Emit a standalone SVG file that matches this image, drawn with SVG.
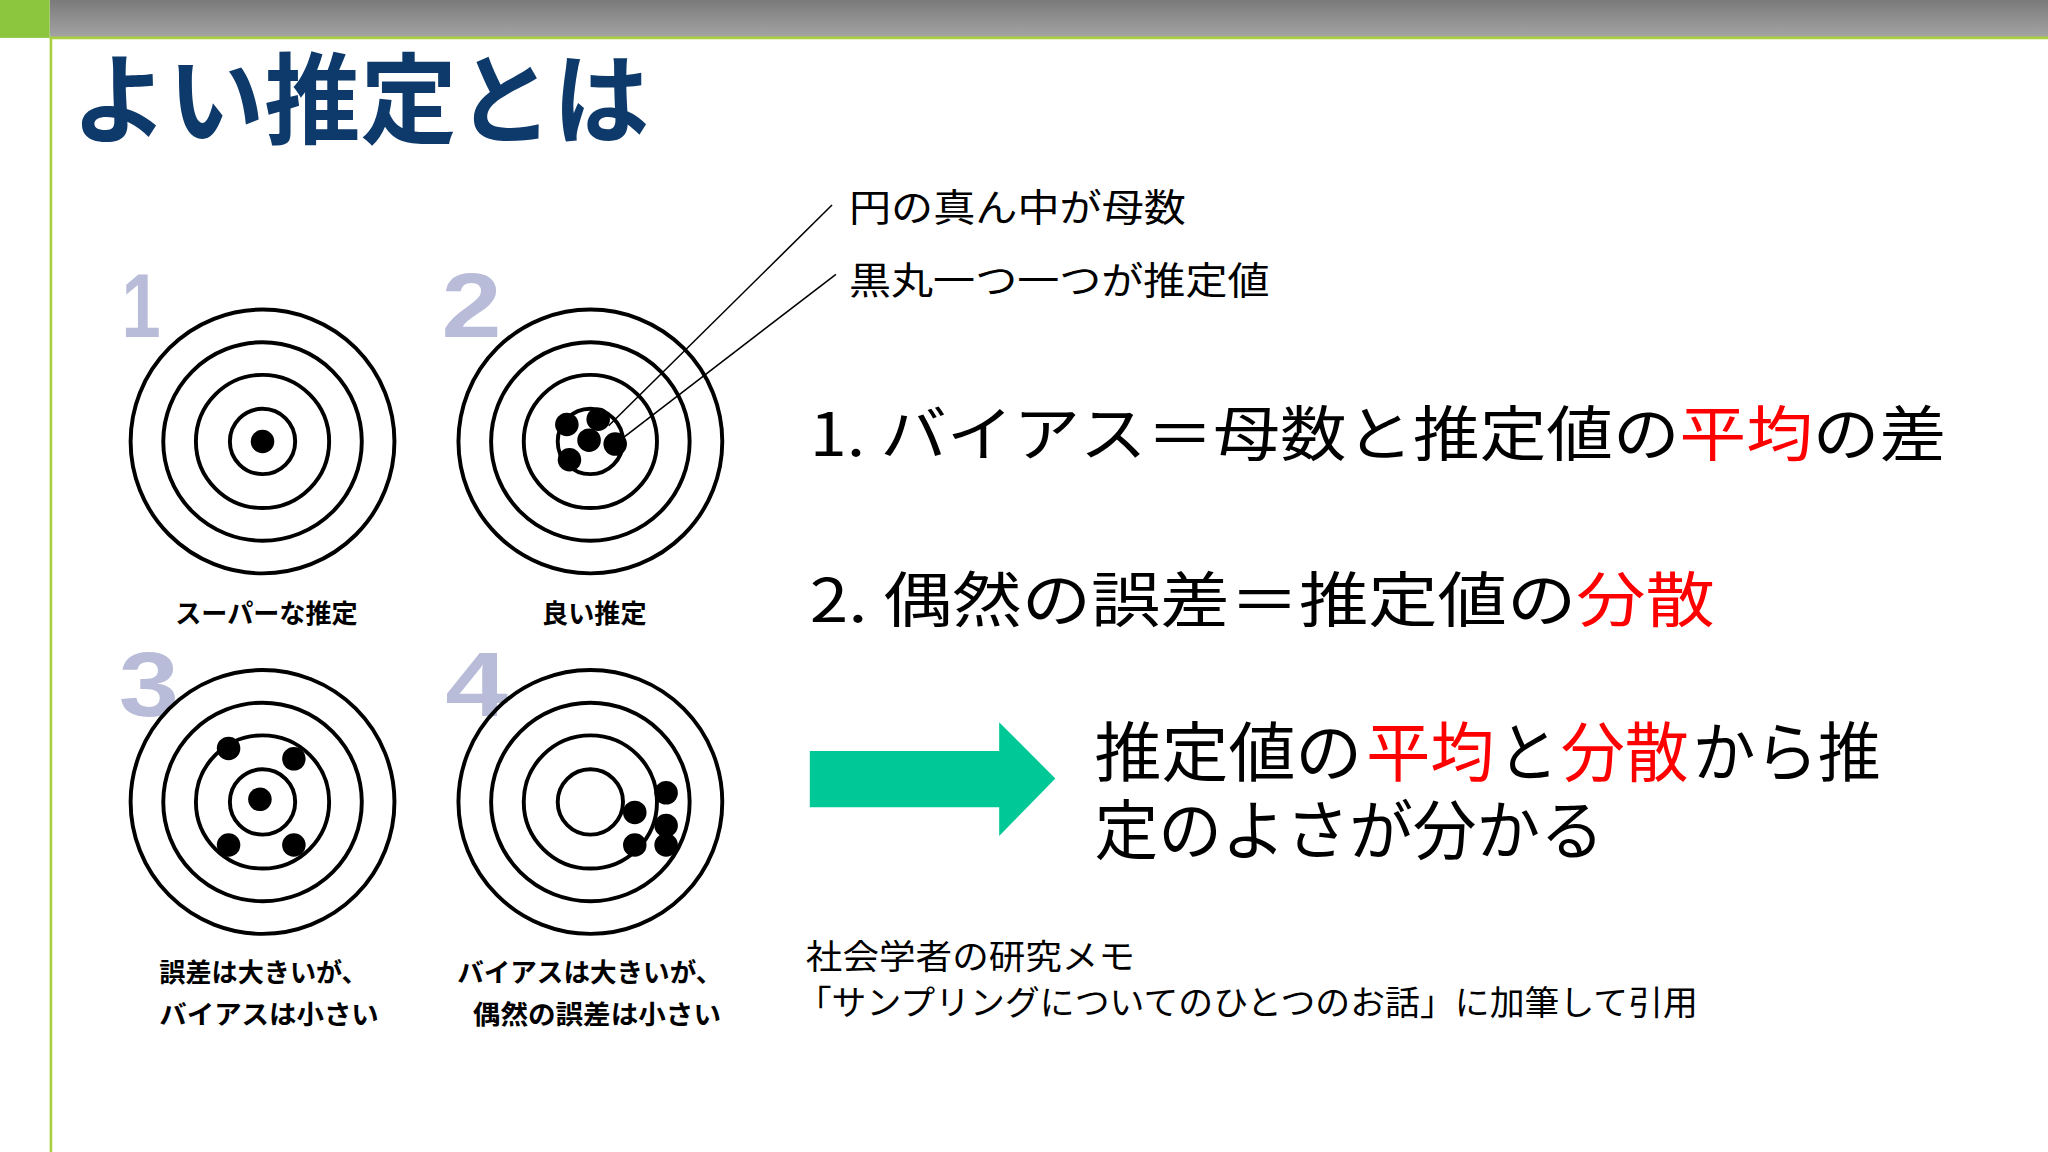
<svg xmlns="http://www.w3.org/2000/svg" width="2048" height="1152" viewBox="0 0 2048 1152">
<defs>
<linearGradient id="bar" x1="0" y1="0" x2="0" y2="1"><stop offset="0" stop-color="#7a7a7a"/><stop offset="1" stop-color="#a5a5a5"/></linearGradient>
<style>
text{font-family:"Noto Sans CJK JP","Noto Sans",sans-serif}
.ring{fill:none;stroke:#000;stroke-width:3}
.num{fill:#b8bcd8;font-weight:bold;font-size:70px;font-family:"Liberation Sans","Noto Sans CJK JP",sans-serif}
.cap{font-size:20px;font-weight:bold}
.big{font-size:46px}
.red{fill:#ff0000}
</style>
</defs>
<g transform="scale(1.30612)">
<rect x="0" y="0" width="1568" height="882" fill="#fff"/>
<rect x="38" y="0" width="1530" height="29" fill="url(#bar)"/>
<rect x="0" y="0" width="38" height="29" fill="#8cc63f"/>
<line x1="38" y1="29" x2="1568" y2="29" stroke="#a8d040" stroke-width="2"/>
<line x1="39" y1="29" x2="39" y2="882" stroke="#a8d040" stroke-width="2"/>
<text id="title" x="55" y="104" font-size="76" font-weight="bold" fill="#0d3a6b" textLength="442" lengthAdjust="spacingAndGlyphs">よい推定とは</text>
<g id="target1">
<text class="num" x="93" y="258" textLength="30" lengthAdjust="spacingAndGlyphs">1</text>
<circle class="ring" cx="201" cy="338" r="101"/><circle class="ring" cx="201" cy="338" r="76"/><circle class="ring" cx="201" cy="338" r="51"/><circle class="ring" cx="201" cy="338" r="25"/>
<circle cx="201" cy="338" r="9"/>
<text class="cap" x="204" y="477" text-anchor="middle">スーパーな推定</text>
</g>
<g id="target2">
<text class="num" x="338" y="258" textLength="46" lengthAdjust="spacingAndGlyphs">2</text>
<circle class="ring" cx="452" cy="338" r="101"/><circle class="ring" cx="452" cy="338" r="76"/><circle class="ring" cx="452" cy="338" r="51"/><circle class="ring" cx="452" cy="338" r="25"/>
<circle cx="434" cy="325" r="9"/><circle cx="458" cy="321" r="9"/><circle cx="451" cy="337" r="9"/><circle cx="471" cy="340" r="9"/><circle cx="436" cy="352" r="9"/>
<text class="cap" x="455" y="477" text-anchor="middle">良い推定</text>
</g>
<g id="target3">
<text class="num" x="91" y="548" textLength="46" lengthAdjust="spacingAndGlyphs">3</text>
<circle class="ring" cx="201" cy="614" r="101"/><circle class="ring" cx="201" cy="614" r="76"/><circle class="ring" cx="201" cy="614" r="51"/><circle class="ring" cx="201" cy="614" r="25"/>
<circle cx="175" cy="573" r="9"/><circle cx="225" cy="581" r="9"/><circle cx="199" cy="612" r="9"/><circle cx="175" cy="647" r="9"/><circle cx="225" cy="647" r="9"/>
<text class="cap" x="122" y="752">誤差は大きいが、</text>
<text class="cap" x="122" y="784" textLength="168" lengthAdjust="spacingAndGlyphs">バイアスは小さい</text>
</g>
<g id="target4">
<text class="num" x="341" y="548" textLength="48" lengthAdjust="spacingAndGlyphs">4</text>
<circle class="ring" cx="452" cy="614" r="101"/><circle class="ring" cx="452" cy="614" r="76"/><circle class="ring" cx="452" cy="614" r="51"/><circle class="ring" cx="452" cy="614" r="25"/>
<circle cx="510" cy="607" r="9"/><circle cx="486" cy="622" r="9"/><circle cx="510" cy="632" r="9"/><circle cx="486" cy="647" r="9"/><circle cx="510" cy="647" r="9"/>
<text class="cap" x="350" y="752" textLength="203" lengthAdjust="spacingAndGlyphs">バイアスは大きいが、</text>
<text class="cap" x="362" y="784" textLength="190" lengthAdjust="spacingAndGlyphs">偶然の誤差は小さい</text>
</g>
<g id="connectors">
<line x1="637" y1="157" x2="466" y2="326" stroke="#000" stroke-width="1.2"/>
<line x1="640" y1="210" x2="476" y2="336" stroke="#000" stroke-width="1.2"/>
<polygon points="620,575 765,575 765,553 808,596 765,640 765,618 620,618" fill="#00c896"/>
</g>
<g id="labels">
<text x="650" y="169" font-size="29" textLength="258" lengthAdjust="spacingAndGlyphs">円の真ん中が母数</text>
<text x="650" y="225" font-size="29" textLength="322" lengthAdjust="spacingAndGlyphs">黒丸一つ一つが推定値</text>
</g>
<g id="points">
<text class="big" x="620" y="349" textLength="870" lengthAdjust="spacingAndGlyphs">1. バイアス＝母数と推定値の<tspan class="red">平均</tspan>の差</text>
<text class="big" x="620" y="476" textLength="693" lengthAdjust="spacingAndGlyphs">2. 偶然の誤差＝推定値の<tspan class="red">分散</tspan></text>
<text x="838" y="594" font-size="50" textLength="205" lengthAdjust="spacingAndGlyphs">推定値の</text>
<text x="1046" y="594" font-size="50" class="red" textLength="98" lengthAdjust="spacingAndGlyphs">平均</text>
<text x="1147" y="594" font-size="50" textLength="46" lengthAdjust="spacingAndGlyphs">と</text>
<text x="1195" y="594" font-size="50" class="red" textLength="98" lengthAdjust="spacingAndGlyphs">分散</text>
<text x="1296" y="594" font-size="50" textLength="144" lengthAdjust="spacingAndGlyphs">から推</text>
<text x="838" y="654" font-size="50" textLength="390" lengthAdjust="spacingAndGlyphs">定のよさが分かる</text>
</g>
<g id="source">
<text x="617" y="742" font-size="26" textLength="252" lengthAdjust="spacingAndGlyphs">社会学者の研究メモ</text>
<text x="610" y="777" font-size="26" textLength="690" lengthAdjust="spacingAndGlyphs">「サンプリングについてのひとつのお話」に加筆して引用</text>
</g>
</g>
</svg>
